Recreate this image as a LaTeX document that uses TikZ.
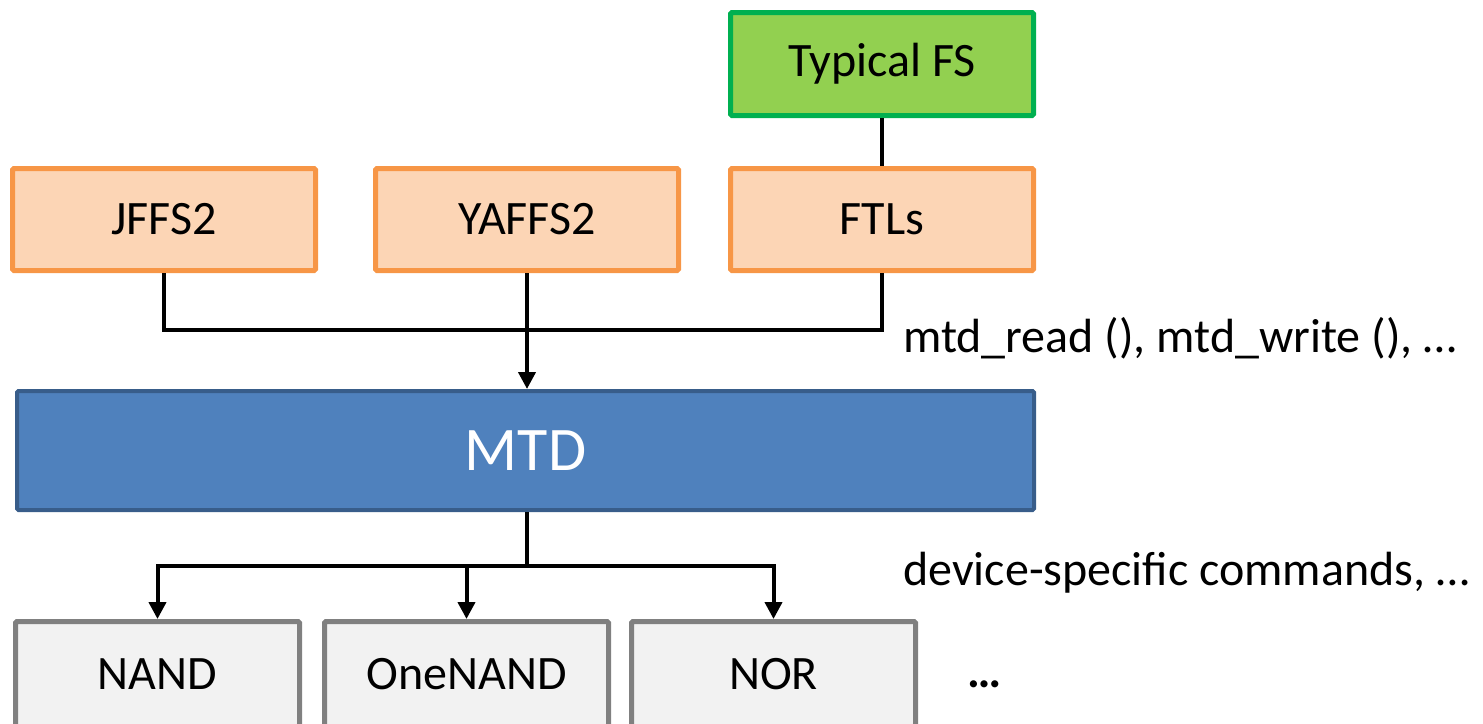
\documentclass[tikz,border=0pt]{standalone}
\usepackage{fontspec}
\setmainfont{Carlito}
\usetikzlibrary{arrows.meta}
\definecolor{fsfill}{HTML}{FCD5B5}
\definecolor{fsline}{HTML}{F79646}
\definecolor{topfill}{HTML}{92D050}
\definecolor{topline}{HTML}{00B050}
\definecolor{mtdfill}{HTML}{4F81BD}
\definecolor{mtdline}{HTML}{385D8A}
\definecolor{devfill}{HTML}{F2F2F2}
\definecolor{devline}{HTML}{808080}
\tikzset{
  box/.style={rectangle, inner sep=0pt, rounded corners=1.5pt,
    font=\fontsize{48}{58}\selectfont},
  fsbox/.style={box, fill=fsfill, draw=fsline, line width=5pt,
    minimum width=303pt, minimum height=102pt},
  topbox/.style={box, fill=topfill, draw=topline, line width=5pt,
    minimum width=303pt, minimum height=103pt},
  mtdbox/.style={box, fill=mtdfill, draw=mtdline, line width=4pt,
    minimum width=1017pt, minimum height=119pt, text=white,
    font=\fontsize{62}{74}\selectfont},
  devbox/.style={box, fill=devfill, draw=devline, line width=5pt,
    minimum width=284pt, minimum height=105pt},
  wire/.style={draw=black, line width=4pt},
  feed/.style={wire, -{Triangle[width=17pt,length=17pt]}},
  note/.style={inner sep=0pt, anchor=base west, font=\fontsize{48}{58}\selectfont}
}
\begin{document}
\begin{tikzpicture}[x=1pt,y=-1pt]
  \clip (0,0) rectangle (1483,723);
  \useasboundingbox (0,0) rectangle (1483,723);

  % file systems and translation layers
  \node[topbox] (tfs) at (882,64) {Typical FS};
  \node[fsbox] (jffs) at (164,219.5) {JFFS2};
  \node[fsbox] (yaffs) at (527,219.5) {YAFFS2};
  \node[fsbox] (ftl) at (882,219.5) {FTLs};

  % MTD layer
  \node[mtdbox] (mtd) at (525.5,450.5) {MTD};

  % flash devices
  \node[devbox] (nand) at (157.5,674) {NAND};
  \node[devbox] (onenand) at (466.5,674) {OneNAND};
  \node[devbox] (nor) at (773.5,674) {NOR};
  \node[inner sep=0pt, font=\fontsize{48}{58}\selectfont\bfseries] (more) at (985,684) {…};

  % interface labels
  \node[note] (api) at (903,352) {mtd\_read (), mtd\_write (), …};
  \node[note] (cmds) at (903,585) {device-specific commands, …};

  % upper connectors
  \coordinate (bus) at (527,330);
  \draw[wire] (tfs) -- (ftl);
  \draw[wire] (jffs.south) |- (bus) -| (ftl.south);
  \draw[feed] (yaffs.south) -- (yaffs.south |- mtd.north);

  % lower connectors
  \coordinate (split) at (527,566);
  \draw[wire] (split |- mtd.south) -- (split);
  \draw[feed] (split) -| (nand.north);
  \draw[feed] (split) -| (nor.north);
  \draw[feed] (onenand.north |- split) -- (onenand.north);
\end{tikzpicture}
\end{document}
